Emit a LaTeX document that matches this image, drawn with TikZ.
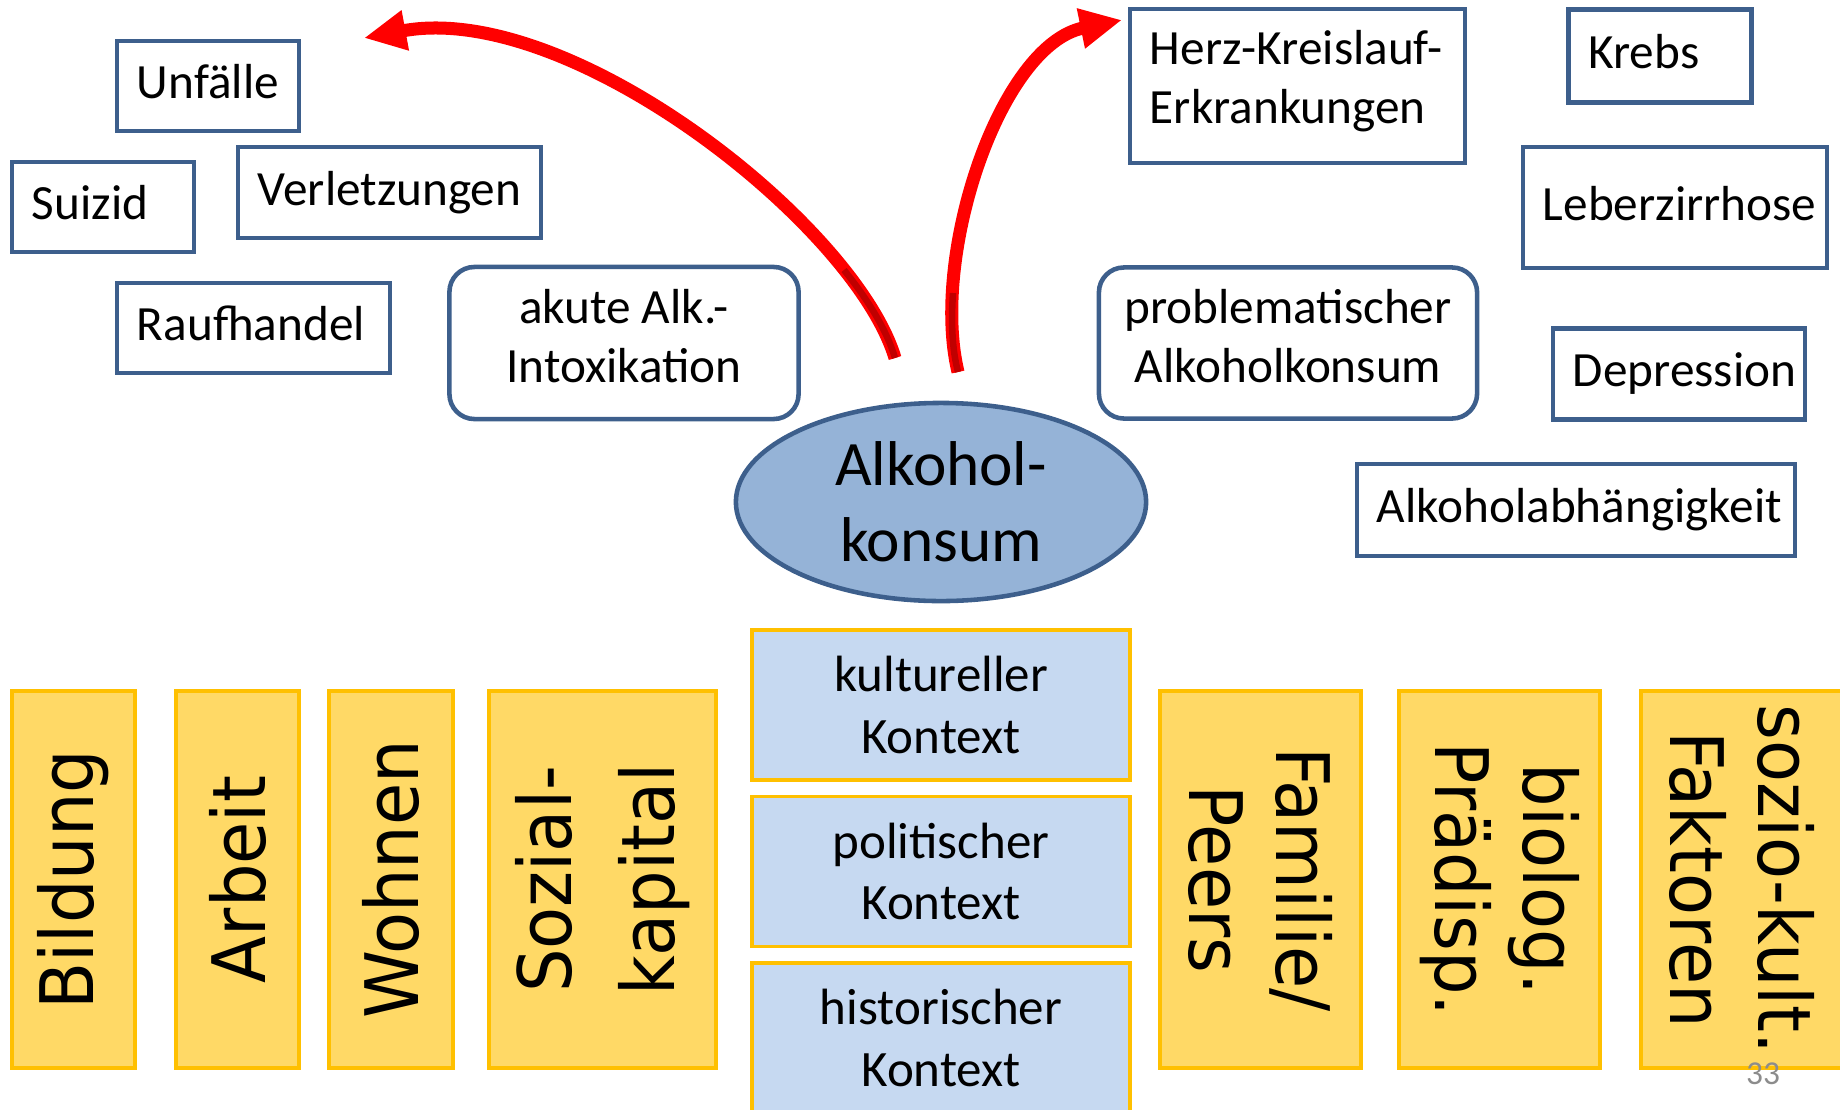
\documentclass[tikz,border=0pt]{standalone}
\usepackage{fontspec}
\setmainfont{Carlito}
\newfontfamily\kippfont[FakeStretch=0.93]{DejaVu Sans}
\usetikzlibrary{shapes.geometric,arrows.meta}
\definecolor{boxblau}{HTML}{3D5F8C}
\definecolor{kernblau}{HTML}{95B3D7}
\definecolor{kontextblau}{HTML}{C6D9F1}
\definecolor{gelb}{HTML}{FFD966}
\definecolor{gold}{HTML}{FFC000}
\definecolor{pfeilrot}{HTML}{FF0000}
\definecolor{dunkelrot}{HTML}{C00000}
\definecolor{seitengrau}{HTML}{8C8C8C}
\begin{document}
\begin{tikzpicture}[x=0.01cm, y=-0.01cm,
    kasten/.style={draw=boxblau, line width=1.3pt, fill=white, align=left, inner xsep=0.2cm, font=\fontsize{14}{16.7}\selectfont},
    folge/.style={kasten, text height=0.37cm, text depth=0.12cm},
    zustand/.style={draw=boxblau, line width=1.3pt, fill=white, rounded corners=0.25cm, align=center, text depth=0.14cm, font=\fontsize{14}{16.7}\selectfont},
    kern/.style={ellipse, draw=boxblau, line width=1.3pt, fill=kernblau, minimum width=4.1cm, minimum height=1.98cm, inner sep=0pt, align=center, font=\fontsize{18}{21.6}\selectfont},
    kontext/.style={draw=gold, line width=1pt, fill=kontextblau, minimum width=3.78cm, minimum height=1.5cm, align=center, font=\fontsize{14.5}{17.6}\selectfont},
    faktor/.style={draw=gold, line width=1pt, fill=gelb, minimum width=3.77cm, align=center, font=\kippfont\fontsize{21}{25}\selectfont},
    pfeil/.style={draw=pfeilrot, line width=0.13cm, -{Triangle[length=0.42cm,width=0.38cm]}},
    schatten/.style={draw=dunkelrot, line width=0.065cm}]
    \useasboundingbox (0,0) rectangle (1840,1109);
    \clip (0,0) rectangle (1840,1109);
    \node[folge, text width=1.42cm, minimum height=0.9cm] (unfaelle) at (208,86) {Unfälle};
    \node[folge, text width=1.42cm, minimum height=0.9cm] (suizid) at (103,207) {Suizid};
    \node[folge, text width=2.63cm, minimum height=0.91cm] (verletz) at (389.5,192.5) {Verletzungen};
    \node[folge, text width=2.33cm, minimum height=0.9cm] (rauf) at (253.5,328) {Raufhandel};
    \node[zustand, minimum width=3.49cm, minimum height=1.52cm] (akut) at (624,343) {akute Alk.-\\Intoxikation};
    \node[kern] (konsum) at (941,502) {Alkohol-\\konsum};
    \node[kasten, text width=2.95cm, minimum height=1.54cm, text depth=0.77cm] (herz) at (1297.5,86) {Herz-Kreislauf-\\Erkrankungen};
    \node[folge, text width=1.43cm, minimum height=0.93cm] (krebs) at (1660,56) {Krebs};
    \node[folge, text width=2.64cm, minimum height=1.21cm] (leber) at (1675,207.5) {Leberzirrhose};
    \node[zustand, minimum width=3.78cm, minimum height=1.51cm] (problem) at (1288,343) {problematischer\\Alkoholkonsum};
    \node[folge, text width=2.12cm, minimum height=0.91cm] (depress) at (1679,374) {Depression};
    \node[folge, text width=3.98cm, minimum height=0.92cm] (abhaeng) at (1576,510) {Alkoholabhängigkeit};
    \node[kontext] (kultur) at (941,705) {kultureller\\Kontext};
    \node[kontext] (politik) at (941,871.5) {politischer\\Kontext};
    \node[kontext] (historie) at (941,1038) {historischer\\Kontext};
    \node[faktor, rotate=90, minimum height=1.23cm] (bildung) at (73.5,879.5) {Bildung};
    \node[faktor, rotate=90, minimum height=1.23cm] (arbeit) at (237.5,879.5) {Arbeit};
    \node[faktor, rotate=90, minimum height=1.24cm] (wohnen) at (391,879.5) {Wohnen};
    \node[faktor, rotate=90, minimum height=2.27cm, font=\kippfont\fontsize{21}{29.3}\selectfont] (sozial) at (602.5,879.5) {Sozial-\\kapital};
    \node[faktor, rotate=-90, minimum height=2.01cm] (familie) at (1260.5,879.5) {Familie/\\Peers};
    \node[faktor, rotate=-90, minimum height=2.01cm] (biolog) at (1499.5,879.5) {biolog.\\Prädisp.};
    \node[faktor, rotate=-90, minimum height=2.02cm] (sozio) at (1742,879.5) {sozio-kult.\\Faktoren};
    \coordinate (ltail) at (895,358);
    \coordinate (lhead) at (364,38);
    \coordinate (rtail) at (958,372);
    \coordinate (rhead) at (1122,20);
    \draw[pfeil] (ltail) .. controls (855,225) and (570,0) .. (lhead);
    \draw[pfeil] (rtail) .. controls (930,255) and (1000,45) .. (rhead);
    \draw[schatten] (ltail) .. controls (887,331) and (869,301) .. (844,270);
    \draw[schatten] (rtail) .. controls (952,349) and (951,322) .. (953,293);
    \node[font=\fontsize{9.5}{11}\selectfont, text=seitengrau] (seite) at (1763,1074) {33};
\end{tikzpicture}
\end{document}
